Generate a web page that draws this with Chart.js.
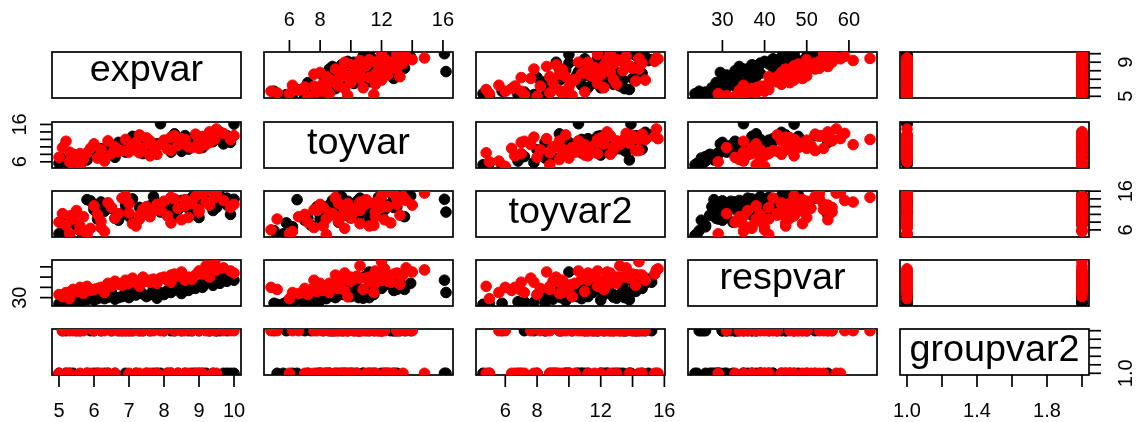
<!DOCTYPE html>
<html>
<head>
<meta charset="utf-8">
<script src="https://cdn.jsdelivr.net/npm/chart.js@4/dist/chart.umd.min.js"></script>
<style>
html,body{margin:0;padding:0;background:#ffffff;}
#wrap{position:relative;width:1144px;height:422px;overflow:hidden;background:#ffffff;}
#wrap canvas{position:absolute;left:0;top:0;}
</style>
</head>
<body>
<div id="wrap"></div>
<script>
// ---------- data ----------
const varNames = ['expvar', 'toyvar', 'toyvar2', 'respvar', 'groupvar2'];

const blackExpvar = [5.0,5.1,5.2,5.3,5.4,5.6,5.8,5.9,6.0,6.2,6.3,6.5,6.6,6.8,6.9,7.0,7.2,7.3,7.5,7.6,7.8,7.9,8.0,8.1,8.2,8.4,8.5,8.6,8.8,8.9,9.0,9.1,9.3,9.4,9.5,9.6,9.7,9.8,9.9,10.0,5.5,6.1,7.1,8.3,9.2,6.7,5.2,6.4,7.4,7.7,8.2,8.7,9.0,9.5,6.9,8.8,9.8,6.0];
const blackToyvar = [5.6,7.0,6.2,5.2,8.0,5.0,6.5,9.0,7.8,9.5,8.4,10.2,7.2,9.8,8.6,10.5,9.2,11.0,10.0,8.8,10.8,16.2,11.5,9.6,10.6,12.2,8.8,13.0,11.8,10.4,12.6,9.8,13.2,11.4,12.0,13.9,10.8,12.4,11.2,16.1,7.4,8.0,12.8,13.5,12.8,11.2,5.8,9.0,8.2,9.4,8.6,9.4,10.2,12.8,10.4,12.0,13.0,8.6];
const blackToyvar2 = [5.0,8.5,6.8,4.6,9.8,5.8,13.8,13.5,12.0,13.2,10.8,11.5,9.0,10.2,12.4,9.5,8.0,11.8,10.5,12.2,13.0,10.6,12.8,9.8,14.2,11.2,13.6,12.0,14.4,10.0,12.6,13.4,15.2,11.0,14.6,14.8,13.2,12.4,10.0,13.9,7.2,8.8,14.0,9.4,15.0,8.5,7.8,12.8,11.0,14.6,12.2,11.6,9.2,11.8,13.4,10.8,14.2,11.2];
const blackRespvar = [24,25,26,23.5,27,24.5,28,30,27.5,33,29,35,28.5,31,36,30,32.5,38,31,33,29.5,35,33,37,36,42,34,38,41,39,43,40,45,42,47,44,50,46,55,47,26,29,37,38,48,30,25.5,30.5,33.5,39,35,37,41,45,32,39,52,31];
const blackGroupvar2 = [1,2,1,1,1,2,1,2,1,2,1,2,1,2,1,2,1,2,1,2,1,1,2,1,2,1,2,1,2,1,2,1,2,1,2,2,1,1,1,1,2,1,2,2,1,2,2,1,2,1,1,2,1,2,2,1,2,2];

const redExpvar = [5.0,5.1,5.2,5.3,5.4,5.5,5.6,5.7,5.8,6.0,6.1,6.2,6.4,6.5,6.6,6.8,6.9,7.0,7.1,7.2,7.4,7.5,7.7,7.8,8.0,8.1,8.3,8.4,8.5,8.6,8.8,8.9,9.0,9.1,9.2,9.3,9.4,9.5,9.45,9.7,9.9,10.0,5.9,7.3,8.2,6.3,7.6,8.7,5.6,6.2,6.7,7.0,7.3,7.9,8.2,8.6,9.0,9.3,5.3,7.6];
const redToyvar = [7.2,9.8,11.5,6.0,5.2,7.8,4.8,6.6,8.4,10.8,7.0,9.2,11.6,8.2,10.0,9.0,12.0,8.6,10.6,11.2,9.6,12.4,10.2,8.0,11.8,9.4,13.0,10.4,12.2,11.0,9.8,13.4,11.6,12.8,10.6,14.0,12.2,14.8,12.0,13.6,12.0,13.0,9.6,13.2,12.6,6.2,7.6,10.0,8.2,7.6,8.8,9.2,8.4,10.6,9.0,12.0,9.6,11.2,8.6,11.6];
const redToyvar2 = [8.0,10.2,7.2,5.0,8.8,11.0,6.0,9.4,4.8,12.2,10.0,8.2,13.0,11.8,9.0,14.2,14.8,10.4,7.6,7.0,11.4,12.0,10.8,12.6,13.4,9.6,14.0,11.6,8.6,13.8,12.8,14.6,10.6,15.4,13.2,12.4,15.6,15.5,14.4,13.6,11.8,12.6,6.4,9.8,7.8,5.6,11.2,9.2,7.0,6.6,10.2,12.8,8.8,11.0,14.4,12.2,11.2,13.0,9.6,9.4];
const redRespvar = [33,31,35,29,38,36,40,34,41,38,39,39,44,41,46,42,47,44,49,45,50,46,48,44,50,47,53,51,55,49,48,52,56,53,61,55,58,57,65,59,56,54,37,43,45,35,47,50,37,40,43,46,41,49,52,47,54,50,35,45];
const redGroupvar2 = [1,2,1,1,2,2,2,2,1,2,1,2,1,2,1,2,2,1,2,1,2,1,2,1,2,1,2,1,2,1,2,1,2,1,2,2,1,1,2,2,2,2,1,2,1,2,2,1,1,1,2,2,1,2,1,2,1,2,2,1];

// tick values and tick labels ('' = tick without label)
const expvarTicks = [5,6,7,8,9,10];
const toyvarTicks = [6,8,10,12,14,16];
const toyvar2Ticks = [6,8,10,12,14,16];
const respvarTicks = [30,40,50,60];
const groupvar2Ticks = [1.0,1.2,1.4,1.6,1.8,2.0];

const expvarXLabels = ['5','6','7','8','9','10'];
const toyvarXLabels = ['6','8','','12','','16'];
const toyvar2XLabels = ['6','8','','12','','16'];
const respvarXLabels = ['30','40','50','60'];
const groupvar2XLabels = ['1.0','','1.4','','1.8',''];

const expvarYLabels = ['5','','','','9',''];
const toyvarYLabels = ['6','','','','','16'];
const toyvar2YLabels = ['6','','','','','16'];
const respvarYLabels = ['30','','',''];
const groupvar2YLabels = ['1.0','','','','',''];

// ---------- layout ----------
const W = 1144, H = 422;
const colLeft = [52, 264, 476, 688, 900];
const rowTop = [52, 122, 191, 260, 329];
const panelW = 189, panelH = 46;
const FONT = '"Liberation Sans", Arial, Helvetica, sans-serif';
const LW = 1.7;

const vars = [
  {black: blackExpvar, red: redExpvar, ticks: expvarTicks, xl: expvarXLabels, yl: expvarYLabels},
  {black: blackToyvar, red: redToyvar, ticks: toyvarTicks, xl: toyvarXLabels, yl: toyvarYLabels},
  {black: blackToyvar2, red: redToyvar2, ticks: toyvar2Ticks, xl: toyvar2XLabels, yl: toyvar2YLabels},
  {black: blackRespvar, red: redRespvar, ticks: respvarTicks, xl: respvarXLabels, yl: respvarYLabels},
  {black: blackGroupvar2, red: redGroupvar2, ticks: groupvar2Ticks, xl: groupvar2XLabels, yl: groupvar2YLabels}
];

function extRange(v) {
  const all = v.black.concat(v.red);
  const mn = Math.min.apply(null, all), mx = Math.max.apply(null, all);
  const d = (mx - mn) * 0.04;
  return [mn - d, mx + d];
}

function pts(xs, ys) {
  return xs.map((x, i) => ({x: x, y: ys[i]}));
}

// diagonal label font size: widest label spans 90% of the panel width
const mctx = document.createElement('canvas').getContext('2d');
mctx.font = '100px ' + FONT;
let maxW = 0;
varNames.forEach(n => { maxW = Math.max(maxW, mctx.measureText(n).width); });
const labelSize = 0.9 * panelW / maxW * 100;
const tickSize = 20;

function drawHText(ctx, txt, cx, cy) {
  const m = ctx.measureText(txt);
  ctx.textAlign = 'center';
  ctx.textBaseline = 'alphabetic';
  ctx.fillText(txt, cx, cy + (m.actualBoundingBoxAscent - m.actualBoundingBoxDescent) / 2);
}
function drawVText(ctx, txt, cx, cy) {
  const m = ctx.measureText(txt);
  ctx.save();
  ctx.translate(cx, cy);
  ctx.rotate(-Math.PI / 2);
  ctx.textAlign = 'center';
  ctx.textBaseline = 'alphabetic';
  ctx.fillText(txt, 0, (m.actualBoundingBoxAscent - m.actualBoundingBoxDescent) / 2);
  ctx.restore();
}

function makePanel(r, c) {
  const canvas = document.createElement('canvas');
  canvas.width = W; canvas.height = H;
  canvas.style.width = W + 'px'; canvas.style.height = H + 'px';
  document.getElementById('wrap').appendChild(canvas);
  const xv = vars[c], yv = vars[r];
  const xr = extRange(xv), yr = extRange(yv);
  const datasets = (r === c) ? [] : [
    {data: pts(xv.black, yv.black), order: 1, backgroundColor: '#000000', borderColor: '#000000', pointRadius: 5.3, borderWidth: 1, clip: 0},
    {data: pts(xv.red, yv.red), order: 0, backgroundColor: '#ff0000', borderColor: '#ff0000', pointRadius: 5.3, borderWidth: 1, clip: 0}
  ];
  const axTop = (r === 0 && c % 2 === 1);
  const axBottom = (r === 4 && c % 2 === 0);
  const axLeft = (c === 0 && r % 2 === 1);
  const axRight = (c === 4 && r % 2 === 0);

  const panelPlugin = {
    id: 'pairsPanel' + r + c,
    beforeDatasetsDraw(chart) {
      const ctx = chart.ctx, a = chart.chartArea;
      ctx.save();
      ctx.strokeStyle = '#000000';
      ctx.lineWidth = LW;
      ctx.strokeRect(a.left, a.top, a.right - a.left, a.bottom - a.top);
      ctx.restore();
    },
    afterDraw(chart) {
      const ctx = chart.ctx, a = chart.chartArea;
      const xs = chart.scales.x, ys = chart.scales.y;
      ctx.save();
      ctx.strokeStyle = '#000000';
      ctx.fillStyle = '#000000';
      ctx.lineWidth = LW;
      ctx.font = tickSize + 'px ' + FONT;
      const TL = 12;
      if (axTop || axBottom) {
        const yEdge = axTop ? a.top : a.bottom;
        const dir = axTop ? -1 : 1;
        xv.ticks.forEach((t, i) => {
          const px = xs.getPixelForValue(t);
          ctx.beginPath(); ctx.moveTo(px, yEdge); ctx.lineTo(px, yEdge + dir * TL); ctx.stroke();
          if (xv.xl[i]) drawHText(ctx, xv.xl[i], px, yEdge + dir * (axTop ? 33.5 : 35));
        });
      }
      if (axLeft || axRight) {
        const xEdge = axLeft ? a.left : a.right;
        const dir = axLeft ? -1 : 1;
        yv.ticks.forEach((t, i) => {
          const py = ys.getPixelForValue(t);
          ctx.beginPath(); ctx.moveTo(xEdge, py); ctx.lineTo(xEdge + dir * TL, py); ctx.stroke();
          if (yv.yl[i]) drawVText(ctx, yv.yl[i], xEdge + dir * (axLeft ? 33.5 : 36), py);
        });
      }
      if (r === c) {
        ctx.font = labelSize + 'px ' + FONT;
        drawHText(ctx, varNames[r], (a.left + a.right) / 2, (a.top + a.bottom) / 2);
      }
      ctx.restore();
    }
  };

  new Chart(canvas, {
    type: 'scatter',
    data: {datasets: datasets},
    options: {
      responsive: false,
      animation: false,
      devicePixelRatio: 1,
      events: [],
      layout: {padding: {left: colLeft[c], top: rowTop[r], right: W - colLeft[c] - panelW, bottom: H - rowTop[r] - panelH}},
      plugins: {legend: {display: false}, tooltip: {enabled: false}},
      scales: {
        x: {type: 'linear', display: false, min: xr[0], max: xr[1]},
        y: {type: 'linear', display: false, min: yr[0], max: yr[1]}
      }
    },
    plugins: [panelPlugin]
  });
}

for (let r = 0; r < 5; r++) {
  for (let c = 0; c < 5; c++) {
    makePanel(r, c);
  }
}
</script>
</body>
</html>
